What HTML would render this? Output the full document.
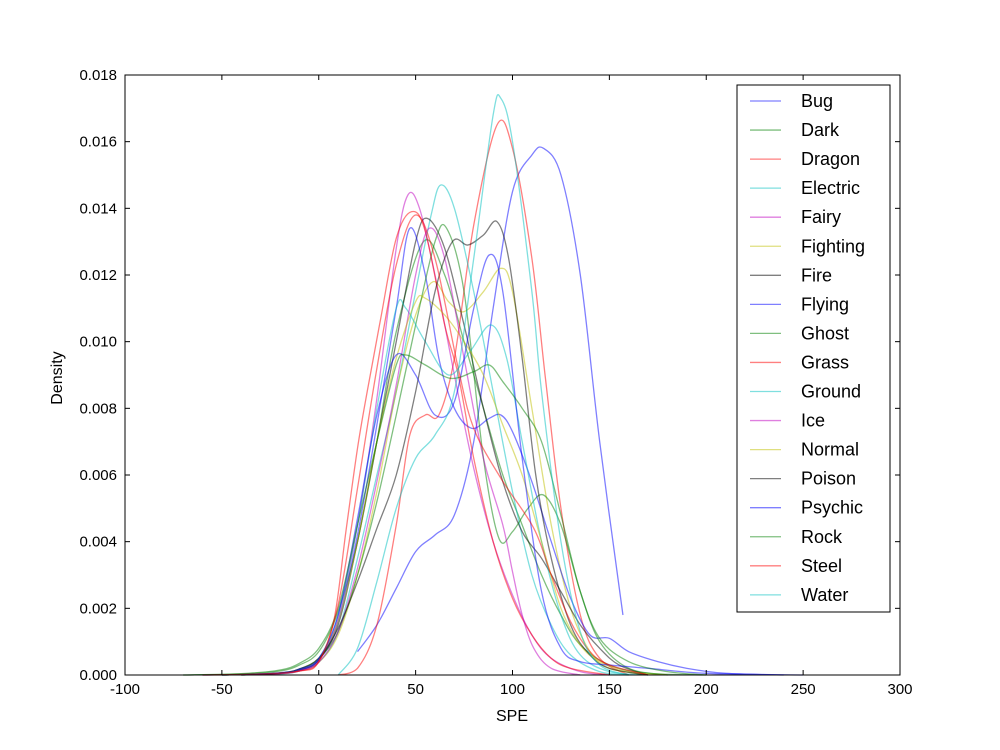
<!DOCTYPE html>
<html><head><meta charset="utf-8"><style>
body{margin:0;background:#fff;}
svg{display:block;font-family:"Liberation Sans",sans-serif;}
</style></head><body>
<svg id="chart" width="1000" height="750">
<rect x="0" y="0" width="1000" height="750" fill="#fff"/>
<g id="plot"></g>
<g id="axes"></g>
<g id="legend"></g>
<text x="512" y="721" font-size="16" text-anchor="middle">SPE</text>
<text x="62" y="378" font-size="16" text-anchor="middle" transform="rotate(-90 62 378)">Density</text>
</svg>
<script>
const seriesNames=["Bug","Dark","Dragon","Electric","Fairy","Fighting","Fire","Flying","Ghost","Grass","Ground","Ice","Normal","Poison","Psychic","Rock","Steel","Water"];
const seriesColors=["#0000ff","#008000","#ff0000","#00bfbf","#bf00bf","#bfbf00","#000000","#0000ff","#008000","#ff0000","#00bfbf","#bf00bf","#bfbf00","#000000","#0000ff","#008000","#ff0000","#00bfbf"];
const xTicks=[-100,-50,0,50,100,150,200,250,300];
const yTicks=[0,0.002,0.004,0.006,0.008,0.010,0.012,0.014,0.016,0.018];
// density values in units of 0.001
const bugX=[20,30,40,50,60,70,80,90,100,110,116,125,135,145,157];
const bugY=[0.7,1.5,2.6,3.7,4.2,4.8,7.0,11,14.5,15.6,15.8,15,12,7,1.8];
const darkX=[-70,-40,-20,-10,0,10,20,30,40,54,65,75,85,95,105,115,125,135,150,170,200];
const darkY=[0,0.03,0.12,0.3,0.7,1.9,4,7,10.3,13,12,10,8,6,4.5,3,1.8,0.9,0.3,0.05,0];
const dragonX=[10,20,30,40,47,55,62,70,80,92,100,110,117,125,135,145,160];
const dragonY=[0,0.2,1.5,4.5,7.2,7.8,7.8,9.5,13.5,16.5,15.8,12.5,8.9,5,1.8,0.5,0];
const electricX=[-40,-20,-10,0,10,20,30,40,50,58,63,70,80,90,100,110,120,130,145,160];
const electricY=[0,0.03,0.12,0.38,1.3,3.5,6,8.5,11.5,13.8,14.7,14,11.5,8.5,5.5,3,1.5,0.6,0.1,0];
const fairyX=[-50,-20,-10,0,10,20,30,40,46,52,60,70,80,90,100,110,120,135,150];
const fairyY=[0,0.05,0.15,0.45,1.7,4.5,8.3,12.8,14.4,14,12,9,6.2,4,2.4,1.2,0.5,0.1,0];
const fightingX=[-40,-20,-10,0,10,20,30,40,50,59,67,75,85,94,100,110,120,130,140,150,170];
const fightingY=[0,0.04,0.12,0.38,1.2,3,5.5,8.5,10.8,11.8,11.2,10.9,11.5,12.2,11.5,8,4.5,2,0.7,0.2,0];
const fireX=[-50,-20,-10,0,10,20,30,40,50,56,65,75,85,95,105,115,125,135,145,155,170];
const fireY=[0,0.05,0.15,0.45,1.5,4,7,10,13,13.7,12.8,10.5,8,5.8,4.3,3.5,2.5,1.5,0.8,0.3,0];
const flyingX=[-60,-30,-10,0,10,20,30,40,47,55,62,70,79,88,94,100,110,120,130,140,150,160,175,190,210,240];
const flyingY=[0,0.03,0.15,0.45,1.6,4.2,7.5,11,13.4,12,9.5,8,7.4,7.7,7.8,7.3,5.8,4,2.3,1.2,1.1,0.7,0.4,0.2,0.05,0];
const ghostX=[-50,-20,-10,0,10,20,30,40,50,60,66,75,85,93,100,108,116,125,135,145,160,180];
const ghostY=[0,0.06,0.18,0.5,1.3,3,5.2,7.8,10.5,13,13.4,11.5,6.5,4.1,4.3,5,5.4,4.5,2.5,1,0.2,0];
const grassX=[-60,-30,-10,0,8,14,20,25,32,40,48,55,65,72,80,90,100,110,120,130,150];
const grassY=[0,0.02,0.12,0.4,1.7,4.3,6.8,8.5,10.7,13.1,13.9,13.3,10.5,9,6.5,4,2.3,1.2,0.5,0.2,0];
const groundX=[-50,-20,-10,0,10,20,30,40,45,55,67,78,89,97,105,115,125,135,150,170];
const groundY=[0,0.06,0.18,0.5,1.8,4.5,8,11,11,10,9,9.7,10.5,9.5,7,4,1.8,0.6,0.1,0];
const iceX=[-40,-20,-10,0,10,20,30,40,50,57,65,75,85,95,100,105,111,120,135];
const iceY=[0,0.04,0.12,0.38,1.3,3.2,5.8,8.7,12,13.4,12.5,9.5,6.5,4.5,3.1,1.8,0.8,0.2,0];
const normalX=[-50,-20,-10,0,10,20,30,40,50,55,65,75,85,95,105,115,125,135,145,160,180];
const normalY=[0,0.06,0.18,0.5,1.6,4,7,9.5,11.2,11.3,10.8,10,9,7.5,6,4,2,0.9,0.4,0.1,0];
const poisonX=[-40,-20,-10,0,10,20,30,40,50,60,69,77,85,92,98,105,112,120,130,140,150,170];
const poisonY=[0,0.06,0.18,0.5,1.4,2.8,4.4,6,8.5,11.5,13,12.9,13.2,13.6,12.5,9.5,6,3.5,1.5,0.6,0.2,0];
const psychicX=[-50,-20,-10,0,10,20,30,40,50,60,70,80,88,95,105,115,125,135,150,170,200,250];
const psychicY=[0,0.06,0.18,0.5,1.8,4.7,7.8,9.6,9,7.8,8.2,11,12.6,11.5,6.5,2.5,0.8,0.4,0.3,0.2,0.05,0];
const rockX=[-70,-40,-20,-10,0,10,20,30,40,45,55,68,80,88,95,105,115,125,135,145,160,180,200];
const rockY=[0,0.04,0.15,0.35,0.8,2,4.5,7,9.3,9.6,9.3,8.9,9.1,9.3,8.8,8,7,4.8,2.5,1.1,0.4,0.1,0];
const steelX=[-60,-30,-10,0,10,20,30,40,50,60,72,80,94,111,120,130,140,150,170];
const steelY=[0,0.03,0.12,0.4,2.1,5.6,9.2,12.3,13.8,12.5,9.2,7.4,5.9,4.4,3,1.6,0.7,0.3,0];
const waterX=[10,20,30,40,50,60,70,80,90,94,100,110,115,125,135,145,160];
const waterY=[0,0.8,2.8,5,6.5,7.2,8.5,12.5,16.8,17.3,16,11.5,8.5,4,1.3,0.3,0];
const seriesX=[bugX,darkX,dragonX,electricX,fairyX,fightingX,fireX,flyingX,ghostX,grassX,groundX,iceX,normalX,poisonX,psychicX,rockX,steelX,waterX];
const seriesY=[bugY,darkY,dragonY,electricY,fairyY,fightingY,fireY,flyingY,ghostY,grassY,groundY,iceY,normalY,poisonY,psychicY,rockY,steelY,waterY];

const L=125,R=900,T=75,B=675;
const xMin=-100,xMax=300,yMin=0,yMax=0.018;
function sx(v){return L+(v-xMin)/(xMax-xMin)*(R-L);}
function sy(v){return B-(v-yMin)/(yMax-yMin)*(B-T);}
const NS="http://www.w3.org/2000/svg";
function mk(t){return document.createElementNS(NS,t);}

function pathFor(xs,ys){
  const p=xs.map((x,i)=>[sx(x),sy(ys[i]/1000)]);
  let d="M"+p[0][0].toFixed(2)+","+p[0][1].toFixed(2);
  for(let i=0;i<p.length-1;i++){
    const p0=p[i-1]||p[i],p1=p[i],p2=p[i+1],p3=p[i+2]||p[i+1];
    let c1y=p1[1]+(p2[1]-p0[1])/6, c2y=p2[1]-(p3[1]-p1[1])/6;
    c1y=Math.min(c1y,B); c2y=Math.min(c2y,B);
    const c1x=p1[0]+(p2[0]-p0[0])/6, c2x=p2[0]-(p3[0]-p1[0])/6;
    d+="C"+c1x.toFixed(2)+","+c1y.toFixed(2)+" "+c2x.toFixed(2)+","+c2y.toFixed(2)+" "+p2[0].toFixed(2)+","+p2[1].toFixed(2);
  }
  return d;
}
const plot=document.getElementById('plot');
seriesNames.forEach((n,i)=>{
  const path=mk('path');
  path.setAttribute('d',pathFor(seriesX[i],seriesY[i]));
  path.setAttribute('fill','none');
  path.setAttribute('stroke',seriesColors[i]);
  path.setAttribute('stroke-opacity','0.5');
  path.setAttribute('stroke-width','1.3');
  
  
  plot.appendChild(path);
});

const axes=document.getElementById('axes');
const frame=mk('rect');
frame.setAttribute('x',L);frame.setAttribute('y',T);frame.setAttribute('width',R-L);frame.setAttribute('height',B-T);
frame.setAttribute('fill','none');frame.setAttribute('stroke','#000');frame.setAttribute('stroke-width','1');


axes.appendChild(frame);
xTicks.forEach(v=>{
  const x=sx(v);
  [[B,B-5],[T,T+5]].forEach(([a,b])=>{
    const l=mk('line');l.setAttribute('x1',x);l.setAttribute('x2',x);l.setAttribute('y1',a);l.setAttribute('y2',b);l.setAttribute('stroke','#000');
    
    
    axes.appendChild(l);
  });
  const t=mk('text');t.setAttribute('x',x);t.setAttribute('y',B+19);t.setAttribute('font-size','15');t.setAttribute('text-anchor','middle');t.textContent=v;
  
  
  axes.appendChild(t);
});
yTicks.forEach(v=>{
  const y=sy(v);
  [[L,L+5],[R,R-5]].forEach(([a,b])=>{
    const l=mk('line');l.setAttribute('y1',y);l.setAttribute('y2',y);l.setAttribute('x1',a);l.setAttribute('x2',b);l.setAttribute('stroke','#000');
    
    
    axes.appendChild(l);
  });
  const t=mk('text');t.setAttribute('x',L-8);t.setAttribute('y',y+5);t.setAttribute('font-size','15');t.setAttribute('text-anchor','end');t.textContent=v.toFixed(3);
  
  
  axes.appendChild(t);
});

const leg=document.getElementById('legend');


const box=mk('rect');
box.setAttribute('x',737);box.setAttribute('y',85);box.setAttribute('width',153);box.setAttribute('height',527);
box.setAttribute('fill','#fff');box.setAttribute('stroke','#000');


leg.appendChild(box);
seriesNames.forEach((n,i)=>{
  const y=101+i*29.05;
  const g=mk('g');
  
  
  const l=mk('line');l.setAttribute('x1',750);l.setAttribute('x2',781);l.setAttribute('y1',y);l.setAttribute('y2',y);
  l.setAttribute('stroke',seriesColors[i]);l.setAttribute('stroke-opacity','0.5');l.setAttribute('stroke-width','1.3');
  const t=mk('text');t.setAttribute('x',801);t.setAttribute('y',y+6);t.setAttribute('font-size','18');t.textContent=n;
  g.appendChild(l);g.appendChild(t);leg.appendChild(g);
});
</script>
</body></html>
